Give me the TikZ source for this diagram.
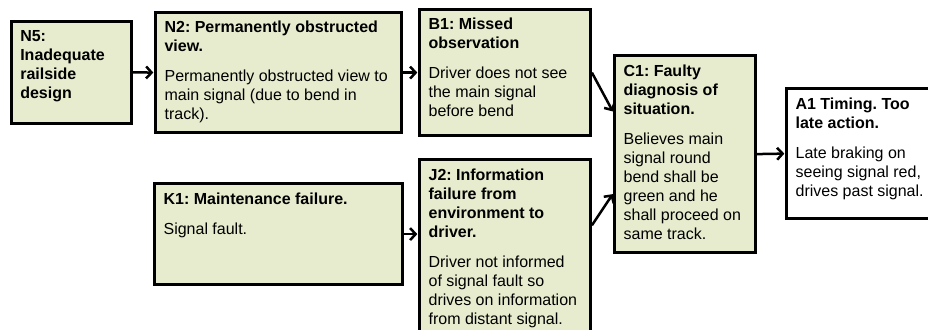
\documentclass[tikz,border=0pt]{standalone}
\usepackage{fontspec}
\setmainfont{Liberation Sans}
\usetikzlibrary{arrows.meta,calc}
\definecolor{boxfill}{RGB}{230,236,205}
\tikzset{
  box/.style={draw=black, line width=2.6pt, rectangle, inner xsep=9pt, inner ysep=8.4pt, anchor=north west, font=\fontsize{16}{19}\selectfont\frenchspacing},
  greenbox/.style={box, fill=boxfill},
  whitebox/.style={box, fill=white},
  conn/.style={draw=black, line width=2.5pt, -{Straight Barb[length=5.5pt,width=12pt]}, shorten >=1pt}
}
\newcommand{\mkbox}[7]{%
  \node[#1] (#2) at (#3,#4) {\parbox[t][\dimexpr#6pt-16.8pt\relax][t]{\dimexpr#5pt-18pt\relax}{\frenchspacing\raggedright\rule{0pt}{12pt}#7}};}
\begin{document}
\frenchspacing
\begin{tikzpicture}[x=1pt,y=-1pt]
\useasboundingbox (0,0) rectangle (928,329);
\clip (0,0) rectangle (928,329);
\mkbox{greenbox}{n5}{10}{20}{120}{102}{\textbf{N5:\\Inadequate\\railside\\design}}
\mkbox{greenbox}{n2}{154.3}{11.3}{246}{120}{\textbf{N2: Permanently obstructed\\view.}\\[11pt]Permanently obstructed view to\\main signal (due to bend in\\track).}
\mkbox{greenbox}{b1}{418.3}{8.3}{171}{126}{\textbf{B1: Missed\\observation}\\[11pt]Driver does not see\\the main signal\\before bend}
\mkbox{greenbox}{c1}{613.3}{54.3}{141}{197}{\textbf{C1: Faulty\\diagnosis of\\situation.}\\[11pt]Believes main\\signal round\\bend shall be\\green and he\\shall proceed on\\same track.}
\mkbox{whitebox}{a1}{785.3}{87.3}{150}{130}{\textbf{A1 Timing. Too\\late action.}\\[11pt]Late braking on\\seeing signal red,\\drives past signal.}
\mkbox{greenbox}{k1}{153.3}{182.3}{248}{101}{\textbf{K1: Maintenance failure.}\\[11pt]Signal fault.}
\mkbox{greenbox}{j2}{418.3}{158.3}{171}{190}{\textbf{J2: Information\\failure from\\environment to\\driver.}\\[11pt]Driver not informed\\of signal fault so\\drives on information\\from distant signal.}
\draw[conn] (n5.east) -- (n2.west);
\draw[conn] (n2.east) -- (b1.west);
\draw[conn] (b1.east) -- ($(c1.north west)+(0,58)$);
\draw[conn] ($(j2.north east)+(0,67)$) -- ($(c1.north west)+(0,139)$);
\draw[conn] (k1.east) -- (k1.east -| j2.west);
\draw[conn] (c1.east) -- (a1.west);
\end{tikzpicture}
\end{document}
